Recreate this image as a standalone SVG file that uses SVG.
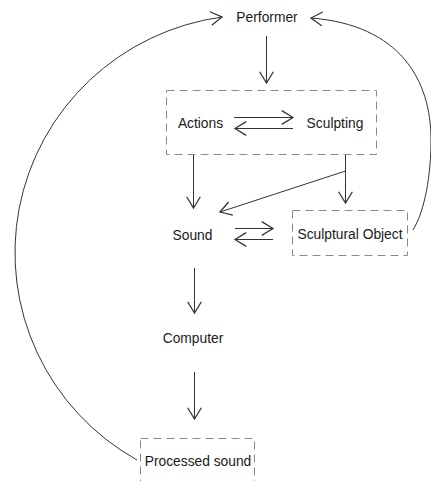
<svg xmlns="http://www.w3.org/2000/svg" width="431" height="481" viewBox="0 0 431 481">
<defs>
<style>
.t{font-family:"Liberation Sans",Arial,sans-serif;font-size:13.8px;fill:#1a1a1a;text-anchor:middle}
.box{fill:none;stroke:#8a8a8a;stroke-width:1;stroke-dasharray:8 5}
.c{fill:none;stroke:#333;stroke-width:1}
</style>
<marker id="ah" markerUnits="userSpaceOnUse" markerWidth="20" markerHeight="20" viewBox="-12 -8 14 16" refX="0" refY="0" orient="auto">
<path d="M-9,-5.5 L0,0 L-9,5.5" fill="none" stroke="#333" stroke-width="1"/>
</marker>
</defs>
<rect width="431" height="481" fill="#fff"/>
<g id="performer"><text class="t" x="267" y="22">Performer</text></g>
<g id="actions-sculpting">
<rect class="box" x="166.5" y="90.5" width="210" height="64"/>
<text class="t" x="200.5" y="128">Actions</text>
<text class="t" x="335" y="128">Sculpting</text>
</g>
<g id="sound"><text class="t" x="192.5" y="240">Sound</text></g>
<g id="sculptural-object">
<rect class="box" x="292.5" y="210.5" width="115" height="45"/>
<text class="t" x="350" y="239">Sculptural Object</text>
</g>
<g id="computer"><text class="t" x="193" y="343">Computer</text></g>
<g id="processed-sound">
<rect class="box" x="140.5" y="438.5" width="114" height="60"/>
<text class="t" x="198" y="466">Processed sound</text>
</g>
<g id="connectors">
<path class="c" marker-end="url(#ah)" d="M266.5,36 V83"/>
<path class="c" marker-end="url(#ah)" d="M234,117.5 H293"/>
<path class="c" marker-end="url(#ah)" d="M293,128.5 H235"/>
<path class="c" marker-end="url(#ah)" d="M193.5,155 V208"/>
<path class="c" marker-end="url(#ah)" d="M345.5,155 V203"/>
<path class="c" marker-end="url(#ah)" d="M345.5,171 L220,212"/>
<path class="c" marker-end="url(#ah)" d="M235,228.5 H273"/>
<path class="c" marker-end="url(#ah)" d="M273,239.5 H235"/>
<path class="c" marker-end="url(#ah)" d="M194.5,268 V313"/>
<path class="c" marker-end="url(#ah)" d="M194.5,372 V419"/>
<path class="c" marker-end="url(#ah)" d="M137,460 A240 238 0 0 1 222,17"/>
<path class="c" marker-end="url(#ah)" d="M413,230 C425,210 431,175 431,140 C431,80 400,25 311,18"/>
</g>
</svg>
